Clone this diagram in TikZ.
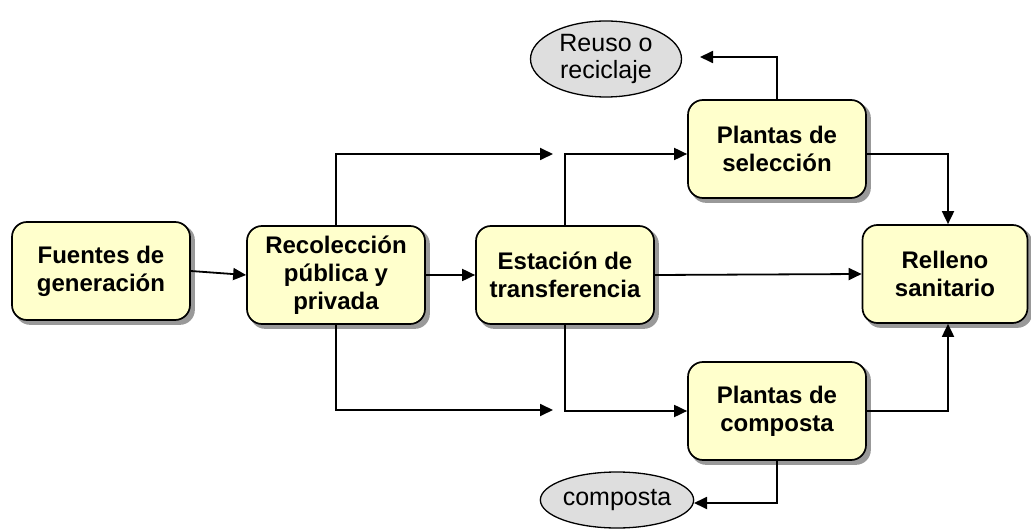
\documentclass[tikz,border=0pt]{standalone}
\usepackage{fontspec}
\setmainfont{Liberation Sans}
\usetikzlibrary{shapes.geometric,backgrounds,arrows.meta}
\definecolor{boxfill}{HTML}{FFFFCC}
\definecolor{ovalfill}{HTML}{DEDEDE}

\begin{document}
\begin{tikzpicture}[x=1pt, y=-1pt, line width=1.8pt, >={Triangle[length=13pt,width=12pt]},
    etapa/.style={draw, rounded corners=15pt, fill=boxfill, align=center,
      minimum width=178pt, minimum height=98pt, line width=1.7pt,
      font=\fontsize{24}{28}\selectfont\bfseries},
    sombra/.style={fill=black!40, rounded corners=15pt},
    destino/.style={draw, ellipse, fill=ovalfill, align=center, inner sep=0pt, line width=1.3pt,
      font=\fontsize{25}{27}\selectfont}]
      \useasboundingbox (0, 0) rectangle (1031, 529);

      \node[etapa] (gen) at (101, 271) {Fuentes de\\generación};
      \node[etapa] (rec) at (336, 275) {Recolección\\pública y\\privada};
      \node[etapa] (est) at (565, 275) {Estación de\\transferencia};
      \node[etapa] (sel) at (777, 149) {Plantas de\\selección};
      \node[etapa] (com) at (777, 411) {Plantas de\\composta};
      \node[etapa, minimum width=165pt] (rel) at (945, 274) {Relleno\\sanitario};

      \node[destino, minimum width=151pt, minimum height=76pt] (reu) at (606, 59) {Reuso o\\reciclaje};
      \node[destino, minimum width=138pt, minimum height=56pt] (cmp) at (617, 500) {composta};

      \begin{scope}[on background layer]
        \foreach \n in {gen, rec, est, sel, com, rel}
          \fill[sombra] ([shift={(4, 4)}]\n.north west) rectangle ([shift={(4, 4)}]\n.south east);
      \end{scope}

      % puntas sueltas
      \coordinate (rt) at (553, 154);
      \coordinate (rb) at (553, 410);
      \coordinate (ru) at (700, 57);
      \coordinate (cu) at (694, 503);

      \draw [->] (gen.east) -- (rec.west);
      \draw [->] (rec.east) -- (est.west);
      \draw [->] (rec.north) |- (rt);
      \draw [->] (rec.south) |- (rb);
      \draw [->] (est.north) |- ([yshift=-5pt]sel.west);
      \draw [->] (est.south) |- (com.west);
      \draw [->] (est.east) -- (rel.west);
      \draw [->] ([yshift=-5pt]sel.east) -| ([xshift=3pt]rel.north);
      \draw [->] (com.east) -| ([xshift=3pt]rel.south);
      \draw [->] (sel.north) |- (ru);
      \draw [->] (com.south) |- (cu);
    \end{tikzpicture}
\end{document}
